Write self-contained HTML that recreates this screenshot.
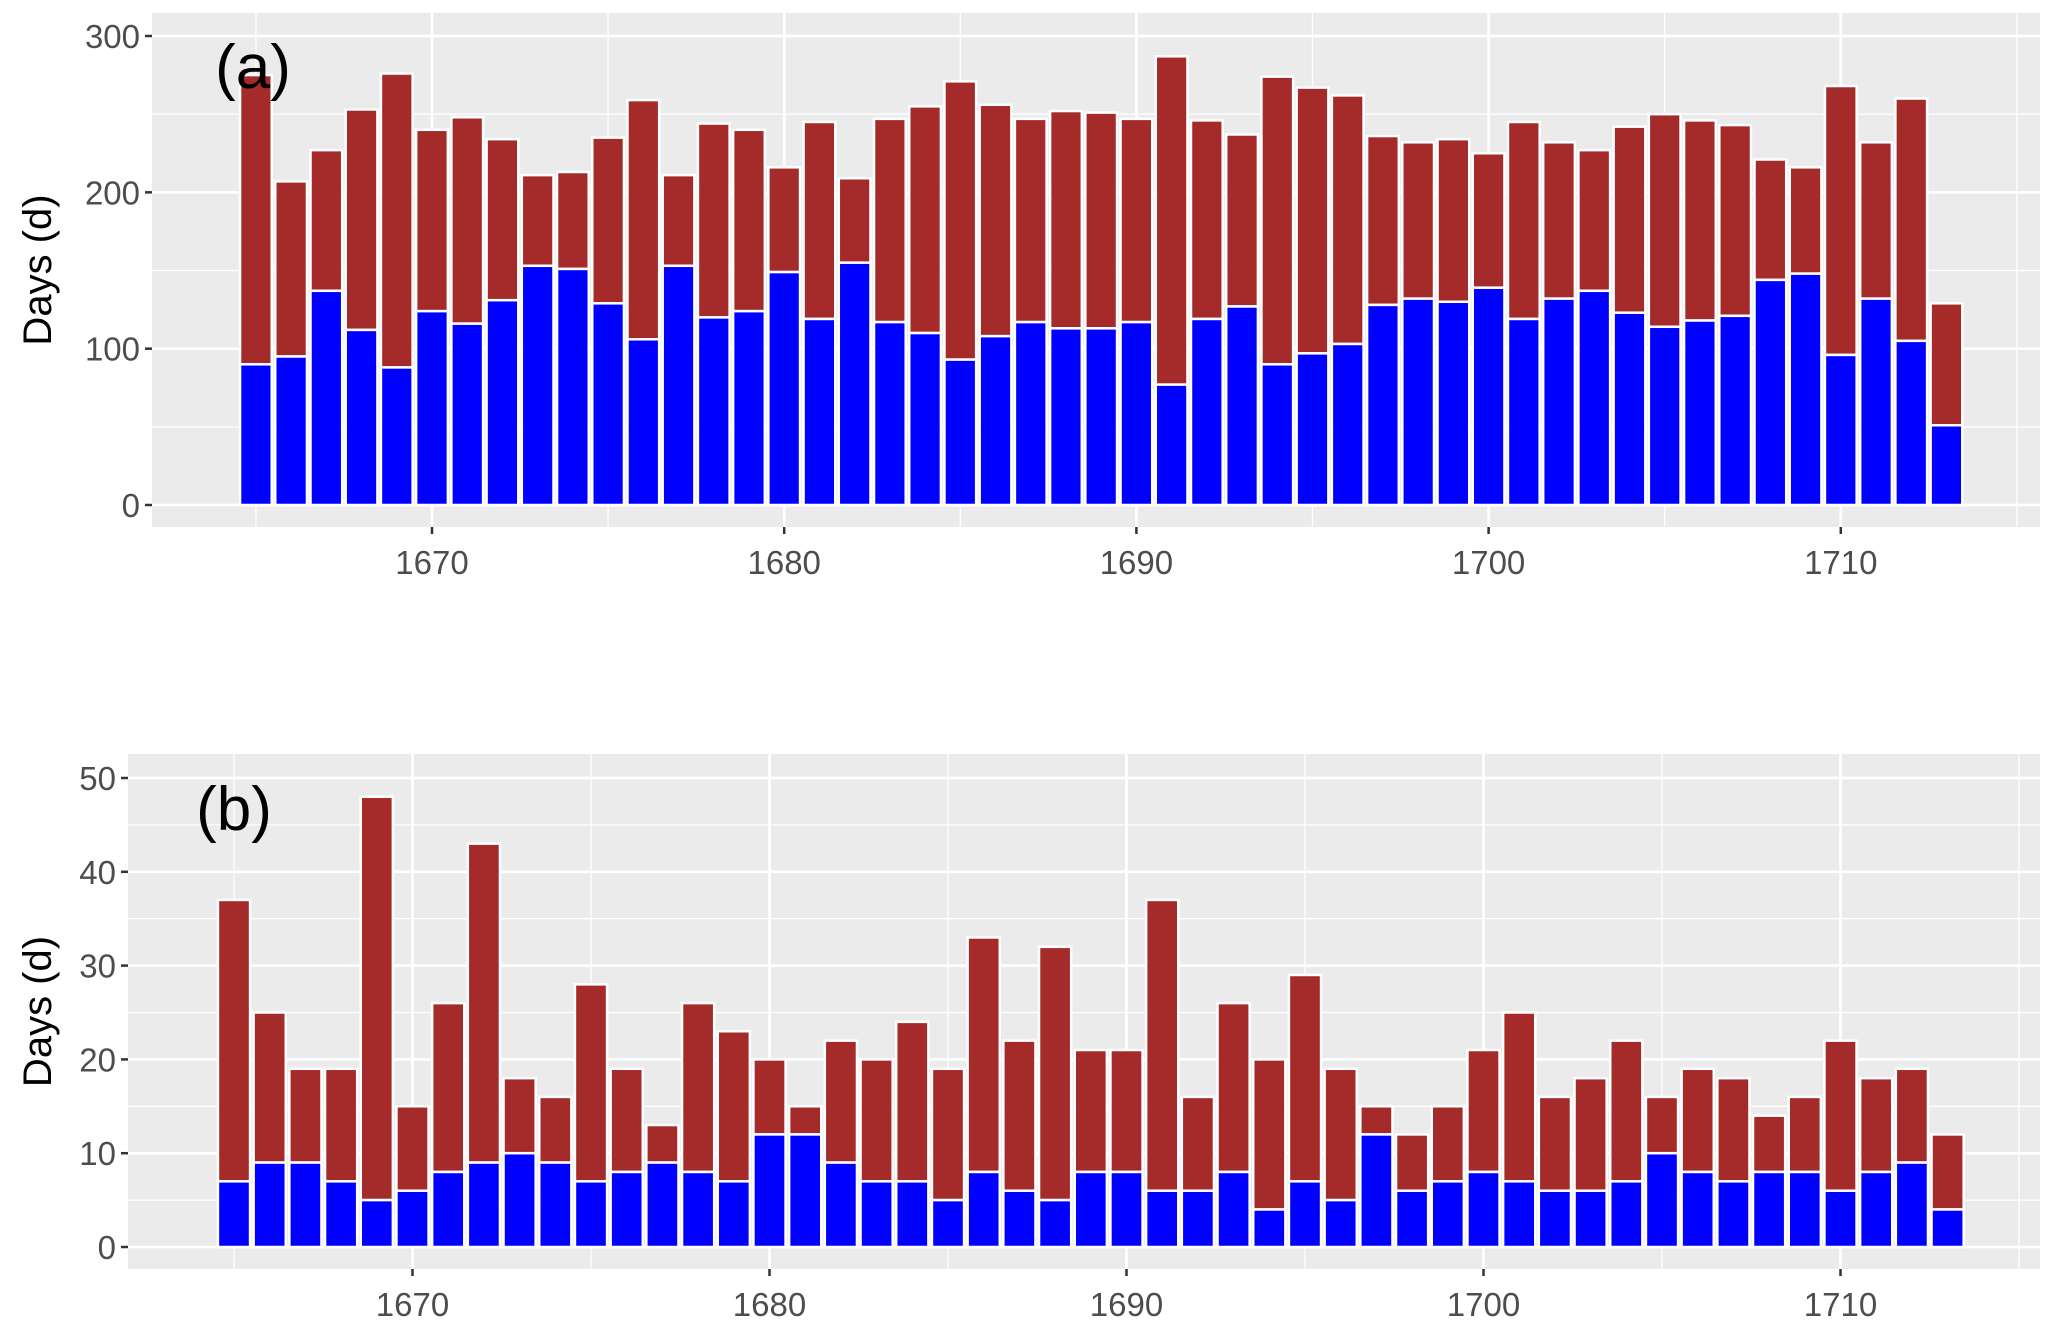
<!DOCTYPE html>
<html><head><meta charset="utf-8"><style>
html,body{margin:0;padding:0;background:#fff;}
svg{display:block;font-family:"Liberation Sans",Arial,sans-serif;}
</style></head><body>
<svg id="chart" width="2067" height="1329" viewBox="0 0 2067 1329"></svg>
<script>
const years = [];
for (let y = 1665; y <= 1713; y++) years.push(y);
const aTotal = [275,207,227,253,276,240,248,234,211,213,235,259,211,244,240,216,245,209,247,255,271,256,247,252,251,247,287,246,237,274,267,262,236,232,234,225,245,232,227,242,250,246,243,221,216,268,232,260,129];
const aBlue = [90,95,137,112,88,124,116,131,153,151,129,106,153,120,124,149,119,155,117,110,93,108,117,113,113,117,77,119,127,90,97,103,128,132,130,139,119,132,137,123,114,118,121,144,148,96,132,105,51];
const bTotal = [37,25,19,19,48,15,26,43,18,16,28,19,13,26,23,20,15,22,20,24,19,33,22,32,21,21,37,16,26,20,29,19,15,12,15,21,25,16,18,22,16,19,18,14,16,22,18,19,12];
const bBlue = [7,9,9,7,5,6,8,9,10,9,7,8,9,8,7,12,12,9,7,7,5,8,6,5,8,8,6,6,8,4,7,5,12,6,7,8,7,6,6,7,10,8,7,8,8,6,8,9,4];
const aYTicks = [0,100,200,300];
const bYTicks = [0,10,20,30,40,50];
const xTicks = [1670,1680,1690,1700,1710];

const NS = "http://www.w3.org/2000/svg";
const svg = document.getElementById('chart');
function el(tag, attrs, parent){
  const e = document.createElementNS(NS, tag);
  for (const k in attrs) e.setAttribute(k, attrs[k]);
  (parent||svg).appendChild(e);
  return e;
}

function panel(cfg){
  const g = el('g', {});
  
  
  const bg = el('rect', {x:cfg.L, y:cfg.T, width:cfg.R-cfg.L, height:cfg.B-cfg.T, fill:'#ebebeb'}, g);
  
  
  const xs = yr => cfg.x0 + (yr - 1670) * cfg.xs;
  const ys = v => cfg.y0 - v * cfg.ys;
  const step = cfg.yTicks[1]-cfg.yTicks[0];
  for (let v = step/2; v <= cfg.yMax; v += step){
    const l = el('line', {x1:cfg.L, x2:cfg.R, y1:ys(v), y2:ys(v), stroke:'#fff', 'stroke-width':1.3}, g);
    
    
  }
  for (let yr = 1665; yr <= 1715; yr += 10){
    const l = el('line', {x1:xs(yr), x2:xs(yr), y1:cfg.T, y2:cfg.B, stroke:'#fff', 'stroke-width':1.3}, g);
    
    
  }
  cfg.yTicks.forEach(v => {
    const l = el('line', {x1:cfg.L, x2:cfg.R, y1:ys(v), y2:ys(v), stroke:'#fff', 'stroke-width':2.7}, g);
    
    
    const t = el('line', {x1:cfg.L-7, x2:cfg.L, y1:ys(v), y2:ys(v), stroke:'#333', 'stroke-width':2.5}, g);
    
    
    const tx = el('text', {x:cfg.L-12, y:ys(v)+12, 'text-anchor':'end', 'font-size':33, fill:'#4d4d4d'}, g);
    tx.textContent = v;
    
    
  });
  xTicks.forEach(yr => {
    const l = el('line', {x1:xs(yr), x2:xs(yr), y1:cfg.T, y2:cfg.B, stroke:'#fff', 'stroke-width':2.7}, g);
    
    
    const t = el('line', {x1:xs(yr), x2:xs(yr), y1:cfg.B, y2:cfg.B+7, stroke:'#333', 'stroke-width':2.5}, g);
    
    
    const tx = el('text', {x:xs(yr), y:cfg.B+47, 'text-anchor':'middle', 'font-size':33, fill:'#4d4d4d'}, g);
    tx.textContent = yr;
    
    
  });
  const bw = cfg.xs * 0.9;
  years.forEach((yr, i) => {
    const blue = cfg.blue[i], tot = cfg.total[i];
    const r1 = el('rect', {x:xs(yr)-bw/2, y:ys(tot), width:bw, height:ys(blue)-ys(tot), fill:'#a52a2a', stroke:'#fff', 'stroke-width':2.5}, g);
    
    
    const r2 = el('rect', {x:xs(yr)-bw/2, y:ys(blue), width:bw, height:ys(0)-ys(blue), fill:'#0000ff', stroke:'#fff', 'stroke-width':2.5}, g);
    
    
  });
  const cy = (cfg.T + cfg.B)/2;
  const yt = el('text', {x:0, y:0, transform:`translate(51,${cy}) rotate(-90)`, 'text-anchor':'middle', 'font-size':40, fill:'#000'}, g);
  yt.textContent = 'Days (d)';
  
  
  const lab = el('text', {x:cfg.labX, y:cfg.labY, 'text-anchor':'middle', 'font-size':62, fill:'#000'}, g);
  lab.textContent = cfg.label;
  
  
}

panel({name:'panel-a', L:152, R:2040, T:13, B:527, x0:432, xs:35.22, y0:505, ys:(505-36)/300, yMax:300,
  yTicks:aYTicks, total:aTotal, blue:aBlue, label:'(a)', labX:253, labY:88});
panel({name:'panel-b', L:128, R:2040, T:754, B:1269, x0:412.5, xs:35.7, y0:1247, ys:(1247-778)/50, yMax:50,
  yTicks:bYTicks, total:bTotal, blue:bBlue, label:'(b)', labX:234, labY:830});
</script>
</body></html>
